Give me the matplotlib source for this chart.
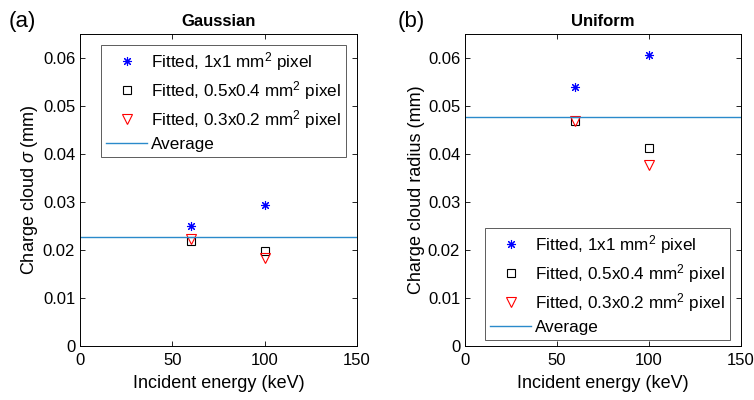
import matplotlib.pyplot as plt
import numpy as np

plt.rcParams['font.family'] = ['Liberation Sans', 'DejaVu Sans']
plt.rcParams['mathtext.fontset'] = 'custom'
plt.rcParams['mathtext.rm'] = 'Liberation Sans'
plt.rcParams['mathtext.it'] = 'Liberation Sans:italic'

energy = [60, 100]

# Gaussian panel
gauss_1x1 = [0.0250, 0.0294]
gauss_05x04 = [0.0219, 0.0197]
gauss_03x02 = [0.0222, 0.0183]
gauss_avg = 0.0228

# Uniform panel
unif_1x1 = [0.0539, 0.0606]
unif_05x04 = [0.0468, 0.0412]
unif_03x02 = [0.0468, 0.0378]
unif_avg = 0.0478

labels = ['Fitted, 1x1 mm$^2$ pixel', 'Fitted, 0.5x0.4 mm$^2$ pixel',
          'Fitted, 0.3x0.2 mm$^2$ pixel', 'Average']
yticks = [0, 0.01, 0.02, 0.03, 0.04, 0.05, 0.06]
ytick_labels = ['0', '0.01', '0.02', '0.03', '0.04', '0.05', '0.06']
xticks = [0, 50, 100, 150]

fig = plt.figure(figsize=(7.54, 4.0), dpi=100)
ax1 = fig.add_axes([80/754, 54/400, 277/754, 312/400])
ax2 = fig.add_axes([465/754, 54/400, 276/754, 312/400])

asterisk = (8, 2, 0)

def draw(ax, s1, s2, s3, avg, title, ylabel, legend_box):
    ax.plot(energy, s1, linestyle='none', marker=asterisk, color='blue',
            markersize=6.5, markeredgewidth=0.8, label=labels[0])
    ax.plot(energy, s2, linestyle='none', marker='s', color='black',
            markerfacecolor='none', markersize=5.5, markeredgewidth=0.8, label=labels[1])
    ax.plot(energy, s3, linestyle='none', marker='v', color='red',
            markerfacecolor='none', markersize=7, markeredgewidth=0.8, label=labels[2])
    ax.axhline(avg, color='#2A8ACB', linewidth=1.0, label=labels[3])
    ax.set_xlim(0, 150)
    ax.set_ylim(0, 0.065)
    ax.set_xticks(xticks)
    ax.set_yticks(yticks)
    ax.set_yticklabels(ytick_labels)
    ax.tick_params(direction='in', top=True, right=True, labelsize=12,
                   length=3.5, width=0.6)
    ax.tick_params(axis='x', pad=5)
    for sp in ax.spines.values():
        sp.set_linewidth(0.7)
    ax.set_xlabel('Incident energy (keV)', fontsize=13, labelpad=5)
    ax.set_ylabel(ylabel, fontsize=13, labelpad=2)
    ax.set_title(title, fontsize=12, fontweight='bold', pad=6)
    leg = ax.legend(loc='upper left', bbox_to_anchor=legend_box, fontsize=12.3,
                    frameon=True, fancybox=False, edgecolor='#333333',
                    handlelength=2.4, handletextpad=0.2, borderpad=0.3,
                    labelspacing=0.35, borderaxespad=0)
    leg.get_frame().set_linewidth(0.7)

draw(ax1, gauss_1x1, gauss_05x04, gauss_03x02, gauss_avg, 'Gaussian',
     'Charge cloud $\\sigma$ (mm)', ((101 - 80) / 277, (346 - 45) / 312))
draw(ax2, unif_1x1, unif_05x04, unif_03x02, unif_avg, 'Uniform',
     'Charge cloud radius (mm)', ((485 - 465) / 276, (346 - 228) / 312))

fig.text(9/754, 1 - 22/400, '(a)', fontsize=16, va='center')
fig.text(398/754, 1 - 22/400, '(b)', fontsize=16, va='center')

fig.savefig('out.png', dpi=100)
